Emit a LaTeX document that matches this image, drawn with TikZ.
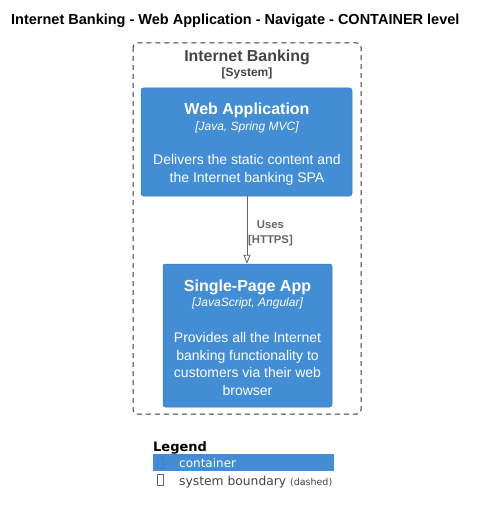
\documentclass[tikz,border=0pt]{standalone}
\usepackage{fontspec}
\setmainfont{Liberation Sans}
\newfontfamily\legfont{DejaVu Sans}
\usetikzlibrary{arrows.meta}
\definecolor{cblue}{HTML}{438DD5}
\definecolor{cgrey}{HTML}{444444}
\definecolor{agrey}{HTML}{666666}
\newcommand{\fs}[1]{\fontsize{#1bp}{#1bp}\selectfont}
\tikzset{
  cbox/.style={draw=cblue!85!black, line width=0.5bp, fill=cblue, rounded corners=2.5bp, inner sep=0pt},
  txt/.style={inner sep=0pt, anchor=base, text=white},
  bound/.style={draw=cgrey!80!black, dash pattern=on 5bp off 4bp, line width=1bp, rounded corners=4bp},
  rel/.style={draw=agrey, line width=0.8bp, -{Triangle[open, length=9bp, width=7bp]}},
  rellab/.style={inner sep=0pt, anchor=base, text=agrey, font=\bfseries\fs{11.3}},
}
\begin{document}
\begin{tikzpicture}[x=1bp, y=-1bp]
\useasboundingbox (0,0) rectangle (478,515);
% title
\node[inner sep=0pt, anchor=base west, font=\bfseries\fs{14.5}] (title) at (11,25) {Internet Banking - Web Application - Navigate - CONTAINER level};
% boundary
\draw[bound] (133,43) rectangle (361,414);
\node[inner sep=0pt, anchor=base, text=cgrey, font=\bfseries\fs{15.9}] (blab) at (247,62) {Internet Banking};
\node[inner sep=0pt, anchor=base, text=cgrey, font=\bfseries\fs{12}] (btype) at (247,77) {[System]};
% web application
\node[cbox, minimum width=211bp, minimum height=108bp] (web) at (246.5,142) {};
\node[txt, font=\bfseries\fs{16}] (webt) at (247,115) {Web Application};
\node[txt, font=\itshape\fs{12}] (webk) at (247,131) {[Java, Spring MVC]};
\node[txt, font=\fs{14}] (webd1) at (247,165) {Delivers the static content and};
\node[txt, font=\fs{14}] (webd2) at (247,183) {the Internet banking SPA};
% single page app
\node[cbox, minimum width=169bp, minimum height=143bp] (spa) at (247.5,335.5) {};
\node[txt, font=\bfseries\fs{16}] (spat) at (247.5,291) {Single-Page App};
\node[txt, font=\itshape\fs{12}] (spak) at (247.5,306.5) {[JavaScript, Angular]};
\node[txt, font=\fs{14}] (spad1) at (247.5,342.5) {Provides all the Internet};
\node[txt, font=\fs{14}] (spad2) at (247.5,360) {banking functionality to};
\node[txt, font=\fs{14}] (spad3) at (247.5,377.5) {customers via their web};
\node[txt, font=\fs{14}] (spad4) at (247.5,395) {browser};
% relation
\draw[rel] (web.south -| 247,0) -- (spa.north -| 247,0);
\node[rellab] (rel1) at (270.5,228) {Uses};
\node[rellab] (rel2) at (270.5,243) {[HTTPS]};
% legend
\node[inner sep=0pt, anchor=base west, font=\legfont\bfseries\fs{13}] (leg) at (153,451) {Legend};
\fill[cblue] (153,454) rectangle (334,471);
\draw[cblue!92!black, line width=0.5bp] (157.5,457.5) rectangle (163.5,468.5);
\node[inner sep=0pt, anchor=base west, text=white, font=\legfont\fs{12}] (legc) at (179,467.5) {container};
\draw[agrey, line width=0.6bp] (157.5,474.5) rectangle (163.5,485.5);
\node[inner sep=0pt, anchor=base west, text=cgrey, font=\legfont\fs{12.3}] (legb) at (179,485) {system boundary {\fs{9.5}(dashed)}};
\end{tikzpicture}
\end{document}
